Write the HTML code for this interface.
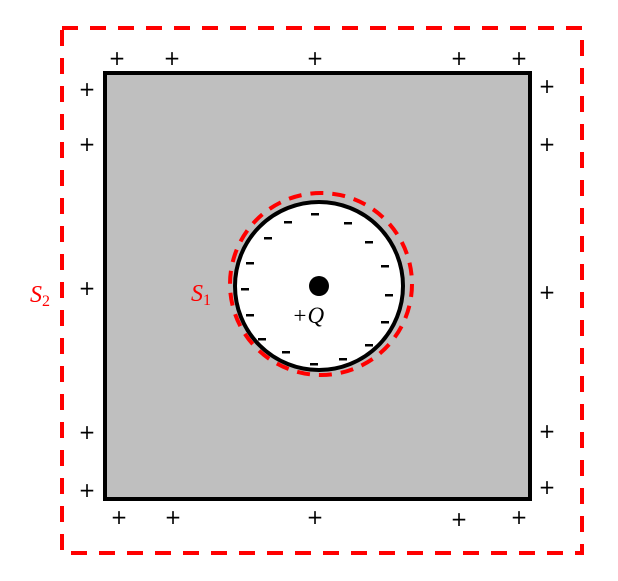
<!DOCTYPE html>
<html><head><meta charset="utf-8"><style>
html,body{margin:0;padding:0;background:#fff;}
svg{display:block;}
</style></head><body>
<svg width="618" height="581" viewBox="0 0 618 581">
<rect x="62" y="28" width="520" height="525" fill="none" stroke="#ff0000" stroke-width="4" stroke-dasharray="16,12"/>
<rect x="105" y="73" width="425" height="426" fill="#bfbfbf" stroke="#000" stroke-width="4"/>
<circle cx="319" cy="286" r="84" fill="#fff" stroke="#000" stroke-width="4"/>
<circle cx="321" cy="284" r="91" fill="none" stroke="#ff0000" stroke-width="4" stroke-dasharray="13,9"/>
<circle cx="319" cy="286" r="10" fill="#000"/>
<g id="minus"></g>
<g id="plus"></g>
<text x="292" y="323" font-family="Liberation Serif, serif" font-style="italic" font-size="23" fill="#000">+Q</text>
<text x="191" y="301" font-family="Liberation Serif, serif" font-style="italic" font-size="24" fill="#ff0000">S<tspan font-size="16" dy="4" font-style="normal">1</tspan></text>
<text x="30" y="302" font-family="Liberation Serif, serif" font-style="italic" font-size="24" fill="#ff0000">S<tspan font-size="16" dy="4" font-style="normal">2</tspan></text>
</svg>
<script>
const minusPts=[[315,214],[288,222],[268,238],[250,263],[245,289],[250,315],[262,339],[286,352],[314,364],[343,359],[369,345],[385,322],[389,295],[385,266],[369,242],[348,223]];
const plusPts=[[117,58],[172,58],[315,58],[459,58],[519,58],[119,517],[173,517],[315,517],[459,519],[519,517],[87,89],[87,144],[87,288],[87,432],[87,490],[547,86],[547,144],[547,292],[547,431],[547,487]];
const ns='http://www.w3.org/2000/svg';
const gm=document.getElementById('minus');
minusPts.forEach(p=>{const r=document.createElementNS(ns,'rect');
r.setAttribute('x',p[0]-4);r.setAttribute('y',p[1]-1);r.setAttribute('width',8);r.setAttribute('height',2.5);r.setAttribute('fill','#000');


gm.appendChild(r);});
const gp=document.getElementById('plus');
plusPts.forEach(p=>{const t=document.createElementNS(ns,'text');
t.setAttribute('x',p[0]);t.setAttribute('y',p[1]+7);t.setAttribute('text-anchor','middle');
t.setAttribute('font-family','DejaVu Sans, sans-serif');t.setAttribute('font-size','20');t.textContent='+';


gp.appendChild(t);});
</script>
</body></html>
